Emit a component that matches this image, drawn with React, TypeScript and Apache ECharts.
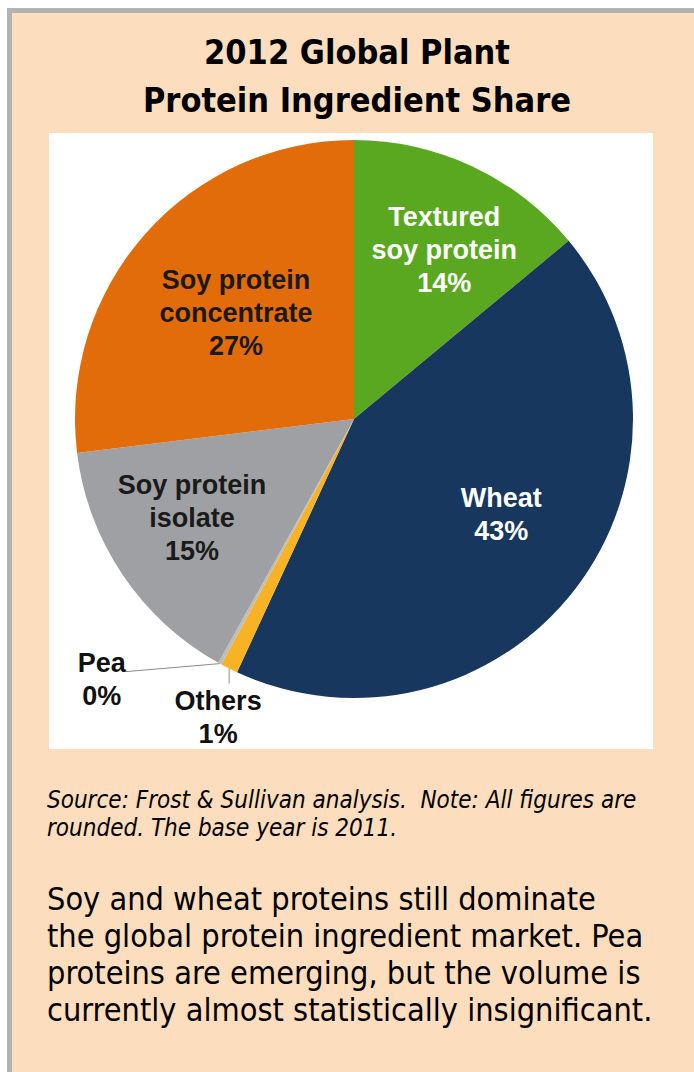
import React, { useEffect, useRef } from "react";
import * as echarts from "echarts";

const categories = [
  "Textured soy protein",
  "Wheat",
  "Others",
  "Pea",
  "Soy protein isolate",
  "Soy protein concentrate",
];
const labelNames = [
  "Textured\nsoy protein",
  "Wheat",
  "Others",
  "Pea",
  "Soy protein\nisolate",
  "Soy protein\nconcentrate",
];
const shares = [14, 43, 1, 0.2, 15, 27];
const sliceColors = ["#5aa81f", "#17375e", "#f7b325", "#bdbdbd", "#9fa0a3", "#e36c0a"];
const insideTextColors = ["#ffffff", "#ffffff", "#000000", "#000000", "#1a1a1a", "#1a1a1a"];
const outsideSlices = ["Others", "Pea"];

const titleText = "2012 Global Plant\nProtein Ingredient Share";
const sourceText =
  "Source: Frost & Sullivan analysis.  Note: All figures are\nrounded. The base year is 2011.";
const bodyText =
  "Soy and wheat proteins still dominate\nthe global protein ingredient market. Pea\nproteins are emerging, but the volume is\ncurrently almost statistically insignificant.";

// small label nudges (px) relative to library-computed label positions
const insideNudges: Record<string, [number, number]> = {
  "Textured soy protein": [12, -2],
  Wheat: [1, -17],
  "Soy protein isolate": [-9, -4],
  "Soy protein concentrate": [20, 16],
};

const pct = (v: number) => Math.round(v) + "%";

export default function App() {
  const ref = useRef<HTMLDivElement>(null);
  useEffect(() => {
    const chart = echarts.init(ref.current!, undefined, { renderer: "svg" });
    const labelFont = '"Liberation Sans", Arial, sans-serif';
    const textFont = '"DejaVu Sans Condensed", "DejaVu Sans", sans-serif';
    const center = [354, 419];
    const R = 279;
    const data = categories.map((c, i) => ({
      name: c,
      value: shares[i],
      itemStyle: { color: sliceColors[i] },
    }));
    chart.setOption({
      animation: false,
      backgroundColor: "#ffffff",
      graphic: [
        { type: "rect", z: -10, silent: true, shape: { x: 7, y: 8, width: 687, height: 1064 }, style: { fill: "#b3b3b3" } },
        { type: "rect", z: -10, silent: true, shape: { x: 12, y: 13, width: 682, height: 1059 }, style: { fill: "#fcddbd" } },
        { type: "rect", z: -10, silent: true, shape: { x: 49, y: 133, width: 604, height: 616 }, style: { fill: "#ffffff" } },
        {
          type: "text", x: 357, y: 76, silent: true,
          style: {
            text: titleText, fill: "#000", align: "center", verticalAlign: "middle",
            fontSize: 34, fontWeight: "bold", fontFamily: textFont, lineHeight: 48,
          },
        },
        {
          type: "text", x: 47, y: 814, silent: true,
          style: {
            text: sourceText, fill: "#000", align: "left", verticalAlign: "middle",
            fontSize: 24, fontStyle: "italic", fontFamily: textFont, lineHeight: 28,
          },
        },
        {
          type: "text", x: 47, y: 954, silent: true,
          style: {
            text: bodyText, fill: "#000", align: "left", verticalAlign: "middle",
            fontSize: 32.2, fontFamily: textFont, lineHeight: 37,
          },
        },
      ],
      series: [
        {
          type: "pie",
          z: 2,
          center,
          radius: [0, R],
          startAngle: 90,
          clockwise: true,
          silent: true,
          data: data.map((d) => ({
            ...d,
            label: { show: outsideSlices.includes(d.name) },
            labelLine: { show: outsideSlices.includes(d.name) },
          })),
          label: {
            position: "outside",
            formatter: (p: any) => labelNames[p.dataIndex] + "\n" + pct(p.value),
            fontFamily: labelFont,
            fontWeight: "bold",
            fontSize: 27,
            lineHeight: 33,
            color: "#111",
          },
          labelLine: { lineStyle: { color: "#8c8c8c", width: 1 }, length: 10, length2: 10 },
          labelLayout: (p: any) => {
            const name = categories[p.dataIndex];
            const pts = p.labelLinePoints;
            if (!pts || !pts[0]) return {};
            const a = pts[0];
            if (name === "Pea") {
              return {
                x: a[0] - 118, y: a[1] + 16, align: "center", verticalAlign: "middle",
                labelLinePoints: [[a[0], a[1]], [a[0] - 94, a[1] + 8]],
              };
            }
            if (name === "Others") {
              return {
                x: a[0] - 11, y: a[1] + 49, align: "center", verticalAlign: "middle",
                labelLinePoints: [[a[0], a[1]], [a[0], a[1] + 15]],
              };
            }
            return {};
          },
        },
        {
          type: "pie",
          z: 3,
          center,
          radius: [R * 0.3, R],
          startAngle: 90,
          clockwise: true,
          silent: true,
          itemStyle: { color: "rgba(0,0,0,0)" },
          data: data.map((d, i) => ({
            name: d.name,
            value: d.value,
            itemStyle: { color: "rgba(0,0,0,0)" },
            label: {
              show: !outsideSlices.includes(d.name),
              color: insideTextColors[i],
            },
          })),
          label: {
            position: "inside",
            formatter: (p: any) => labelNames[p.dataIndex] + "\n" + pct(p.value),
            fontFamily: labelFont,
            fontWeight: "bold",
            fontSize: 27,
            lineHeight: 33,
            align: "center",
          },
          labelLine: { show: false },
          labelLayout: (p: any) => {
            const n = insideNudges[categories[p.dataIndex]];
            return n ? { dx: n[0], dy: n[1] } : {};
          },
        },
      ],
    });
    return () => chart.dispose();
  }, []);
  return (
    <div
      ref={ref}
      style={{ position: "absolute", left: 0, top: 0, width: 694, height: 1072 }}
    />
  );
}
